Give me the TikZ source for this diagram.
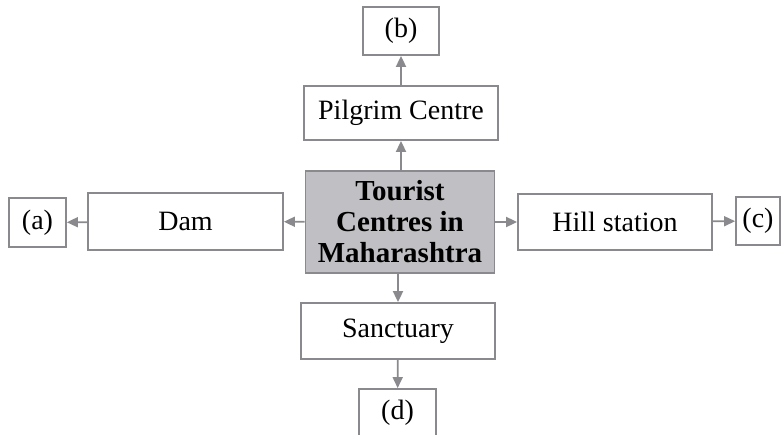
\documentclass[tikz,border=0pt]{standalone}
\usepackage{fontspec}
\setmainfont{Liberation Serif}
\usetikzlibrary{
		arrows.meta,
		positioning
	}
\definecolor{boxline}{RGB}{138,138,142}
\definecolor{hubfill}{RGB}{192,192,196}
\tikzset{
		>={Triangle[length=5.5pt,width=5pt]},
		place/.style={draw=boxline, line width=0.9pt, fill=white, inner sep=0pt,
			font=\fontsize{14}{15.5}\selectfont, align=center},
		link/.style={->, draw=boxline, line width=0.9pt}
	}
\begin{document}
\begin{tikzpicture}[x=0.5pt,y=-0.5pt]
              % page frame
              \useasboundingbox (0,0) rectangle (782,434);
              \clip (0,0) rectangle (782,434);

              % the central box
              \node[place, fill=hubfill, font=\fontsize{14.5}{15.5}\selectfont\bfseries,
                    minimum width=94.5pt, minimum height=51pt] (hub) at (400,222)
                    {Tourist\\Centres in\\Maharashtra};

              % the four kinds of centres
              \node[place, minimum width=97pt, minimum height=27pt] (pilgrim) at (401,113) {Pilgrim Centre};
              \node[place, minimum width=97.5pt, minimum height=28.5pt] (dam) at (185.5,221.5) {Dam};
              \node[place, minimum width=97pt, minimum height=28pt] (hill) at (615,222) {Hill station};
              \node[place, minimum width=97pt, minimum height=28pt] (sanct) at (398,331) {Sanctuary};

              % the blanks to fill in
              \node[place, minimum width=38pt, minimum height=24pt] (b) at (401,31) {(b)};
              \node[place, minimum width=28.5pt, minimum height=24.5pt] (a) at (37.5,222.5) {(a)};
              \node[place, minimum width=22pt, minimum height=24pt] (c) at (758,221) {(c)};
              \node[place, minimum width=38.5pt, minimum height=24pt] (d) at (397.5,413) {(d)};

              % draw the arrows
              \draw[link] (hub.north -| pilgrim) -- (pilgrim);
              \draw[link] (pilgrim) -- (b);
              \draw[link] (hub) -- (dam);
              \draw[link] (dam) -- (a);
              \draw[link] (hub) -- (hill);
              \draw[link] (hill) -- (c);
              \draw[link] (hub.south -| sanct) -- (sanct);
              \draw[link] (sanct) -- (d);

          \end{tikzpicture}
\end{document}
